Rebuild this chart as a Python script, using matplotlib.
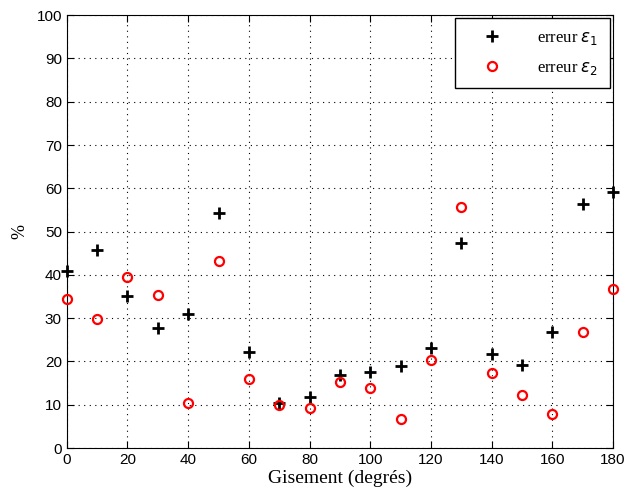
import matplotlib
matplotlib.use("Agg")
import matplotlib.pyplot as plt

gisement = [0, 10, 20, 30, 40, 50, 60, 70, 80, 90, 100, 110, 120, 130, 140, 150, 160, 170, 180]
erreur1 = [40.8, 45.7, 35.1, 27.7, 31.0, 54.3, 22.2, 10.4, 11.8, 16.9, 17.6, 18.9, 23.0, 47.3, 21.7, 19.2, 26.8, 56.4, 59.1]
erreur2 = [34.4, 29.8, 39.6, 35.3, 10.4, 43.2, 15.9, 9.9, 9.2, 15.2, 13.9, 6.7, 20.3, 55.7, 17.3, 12.2, 7.9, 26.8, 36.7]

fig = plt.figure(figsize=(6.3, 5.04), dpi=100)
ax = fig.add_axes([0.106, 0.111, 0.867, 0.859])

ax.plot(gisement, erreur1, linestyle='none', marker='+', color='black',
        markersize=8.5, markeredgewidth=2, label=r'erreur $\epsilon_1$', clip_on=False, zorder=3)
ax.plot(gisement, erreur2, linestyle='none', marker='o', markerfacecolor='none',
        markeredgecolor='red', markersize=6.5, markeredgewidth=1.6, label=r'erreur $\epsilon_2$', clip_on=False, zorder=3)

ax.set_xlim(0, 180)
ax.set_ylim(0, 100)
ax.set_xticks(range(0, 181, 20))
ax.set_yticks(range(0, 101, 10))
ax.grid(True, linestyle=(0, (1, 4)), color='black', linewidth=0.8)
ax.tick_params(direction='in', top=True, right=True, labelsize=11, length=5)
for lab in ax.get_xticklabels() + ax.get_yticklabels():
    lab.set_fontfamily('Liberation Sans')

ax.set_xlabel('Gisement (degrés)', fontfamily='Liberation Serif', fontsize=14, labelpad=2)
ax.set_ylabel('%', fontfamily='Liberation Serif', fontsize=13, labelpad=6)

leg = ax.legend(loc='upper right', fancybox=False, edgecolor='black', framealpha=1,
                prop={'family': 'Liberation Serif', 'size': 12}, borderpad=0.7,
                labelspacing=0.75, handletextpad=1.2, borderaxespad=0.2,
                handlelength=3.0)
leg.get_frame().set_linewidth(1.0)

fig.savefig('out.png', dpi=100)
